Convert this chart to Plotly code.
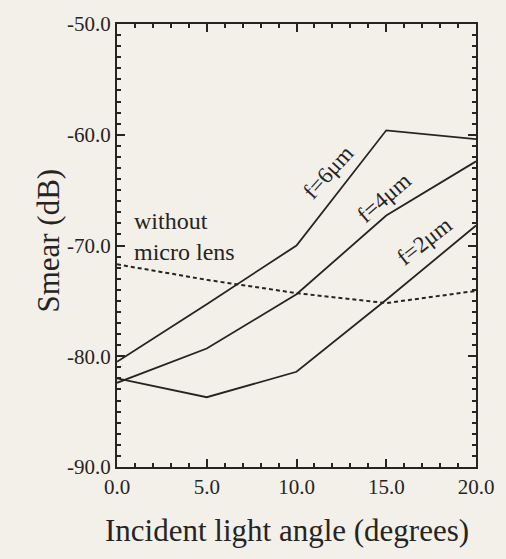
import plotly.graph_objects as go

angles = [0, 5, 10, 15, 20]
f6_um = [-80.5, -75.3, -70.0, -59.6, -60.4]
f4_um = [-82.4, -79.3, -74.4, -67.3, -62.4]
f2_um = [-82.0, -83.7, -81.4, -74.9, -68.2]
no_lens = [-71.7, -73.1, -74.3, -75.2, -74.1]

x_ticks = [0, 5, 10, 15, 20]
x_ticktext = ["0.0", "5.0", "10.0", "15.0", "20.0"]
y_ticks = [-90, -80, -70, -60, -50]
y_ticktext = ["-90.0", "-80.0", "-70.0", "-60.0", "-50.0"]

ink = "#262422"
bg = "#f3efe9"
serif = "Liberation Serif, Times New Roman, serif"

fig = go.Figure()
for ys in (f6_um, f4_um, f2_um):
    fig.add_trace(go.Scatter(x=angles, y=ys, mode="lines",
                             line=dict(color=ink, width=1.8), showlegend=False))
fig.add_trace(go.Scatter(x=angles, y=no_lens, mode="lines",
                         line=dict(color=ink, width=2, dash="4px,3px"), showlegend=False))

labels = [("f=6μm", 11.75, -63.4, -48), ("f=4μm", 14.9, -65.7, -41), ("f=2μm", 17.1, -69.6, -38)]
for txt, lx, ly, ang in labels:
    fig.add_annotation(x=lx, y=ly, text=txt, showarrow=False, textangle=ang,
                       font=dict(family=serif, size=23, color=ink))

fig.add_annotation(x=0.85, y=-69.15, text="without<br>micro lens", showarrow=False,
                   xanchor="left", align="left",
                   font=dict(family=serif, size=24, color=ink))

fig.add_annotation(xref="paper", yref="paper", x=0.474, y=-0.187,
                   text="Incident light angle (degrees)", showarrow=False,
                   font=dict(family=serif, size=31, color=ink))
fig.add_annotation(xref="paper", yref="paper", x=-0.245, y=0.51,
                   text="Smear (dB)", showarrow=False, textangle=-90,
                   font=dict(family=serif, size=31, color=ink))

axis_common = dict(showgrid=False, zeroline=False, showline=True, linecolor=ink,
                   linewidth=2, mirror="ticks", ticks="inside", ticklen=8,
                   tickwidth=1.5, tickcolor=ink,
                   tickfont=dict(family=serif, size=21, color=ink))

fig.update_xaxes(range=[0, 20], tickvals=x_ticks, ticktext=x_ticktext,
                 minor=dict(dtick=1, ticks="inside", ticklen=4, tickcolor=ink, tickwidth=1.5),
                 **axis_common)
fig.update_yaxes(range=[-90, -50], tickvals=y_ticks, ticktext=y_ticktext,
                 minor=dict(dtick=1, ticks="inside", ticklen=4, tickcolor=ink, tickwidth=1.5),
                 **axis_common)

fig.update_layout(width=506, height=559, margin=dict(l=117, r=20, t=22, b=92),
                  paper_bgcolor=bg, plot_bgcolor=bg, showlegend=False)

fig.write_html("out.html")
